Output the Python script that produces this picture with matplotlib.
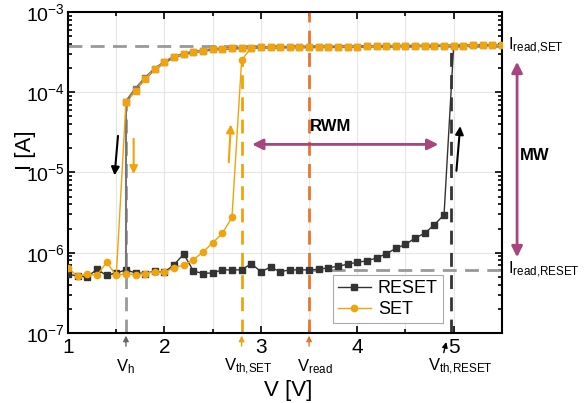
import matplotlib
matplotlib.use("Agg")
import matplotlib.pyplot as plt
from matplotlib.ticker import MultipleLocator, LogLocator, NullFormatter
import numpy as np

plt.rcParams["font.family"] = ["Liberation Sans", "DejaVu Sans"]
plt.rcParams["mathtext.default"] = "regular"

# RESET sweep, low state 1.0 .. 4.9 V
v_low_reset = np.round(np.arange(1.0, 4.95, 0.1), 1)
i_low_reset = [5.4e-7, 5.1e-7, 5.0e-7, 6.2e-7, 5.2e-7, 5.6e-7, 6.1e-7, 5.6e-7, 5.5e-7, 5.9e-7,
               5.7e-7, 7.1e-7, 9.6e-7, 5.9e-7, 5.5e-7, 5.6e-7, 6.1e-7, 6.1e-7, 6.1e-7, 7.3e-7,
               5.8e-7, 6.6e-7, 5.8e-7, 6.1e-7, 6.1e-7, 6.1e-7, 6.2e-7, 6.5e-7, 6.75e-7, 7.2e-7,
               7.6e-7, 7.9e-7, 8.6e-7, 9.7e-7, 1.13e-6, 1.27e-6, 1.52e-6, 1.75e-6, 2.23e-6, 2.97e-6]

# high state branch 1.6 .. 5.5 V
v_high = np.round(np.arange(1.6, 5.55, 0.1), 1)
i_high_reset = [7.6e-5, 1.1e-4, 1.5e-4, 1.96e-4, 2.37e-4, 2.76e-4, 3.0e-4, 3.17e-4, 3.3e-4, 3.43e-4,
                3.49e-4, 3.52e-4, 3.56e-4, 3.6e-4, 3.62e-4, 3.63e-4, 3.64e-4, 3.65e-4, 3.66e-4, 3.67e-4,
                3.68e-4, 3.69e-4, 3.7e-4, 3.71e-4, 3.72e-4, 3.73e-4, 3.74e-4, 3.75e-4, 3.76e-4, 3.77e-4,
                3.78e-4, 3.79e-4, 3.8e-4, 3.81e-4, 3.82e-4, 3.83e-4, 3.84e-4, 3.85e-4, 3.86e-4, 3.87e-4]
i_high_set = [7.5e-5, 1.05e-4, 1.48e-4, 1.95e-4, 2.36e-4, 2.75e-4, 3.0e-4, 3.17e-4, 3.3e-4, 3.43e-4,
              3.49e-4, 3.52e-4, 3.55e-4, 3.6e-4, 3.62e-4, 3.63e-4, 3.64e-4, 3.65e-4, 3.66e-4, 3.67e-4,
              3.68e-4, 3.69e-4, 3.7e-4, 3.71e-4, 3.72e-4, 3.73e-4, 3.74e-4, 3.75e-4, 3.76e-4, 3.77e-4,
              3.78e-4, 3.79e-4, 3.8e-4, 3.81e-4, 3.82e-4, 3.83e-4, 3.84e-4, 3.85e-4, 3.86e-4, 3.87e-4]

# SET sweep, low state 1.0 .. 2.8 V
v_low_set = np.round(np.arange(1.0, 2.85, 0.1), 1)
i_low_set = [6.4e-7, 5.1e-7, 5.4e-7, 5.2e-7, 7.6e-7, 5.2e-7, 5.5e-7, 5.3e-7, 5.5e-7, 5.8e-7,
             5.7e-7, 6.5e-7, 7.0e-7, 8.2e-7, 1.02e-6, 1.33e-6, 1.74e-6, 2.76e-6, 2.5e-4]

i_read_set = 3.8e-4
i_read_reset = 6.1e-7
v_h = 1.6
v_th_set = 2.8
v_read = 3.5
v_th_reset = 4.97

orange = "#F0A30A"
purple = "#A8457E"

fig = plt.figure(figsize=(5.87, 4.03), dpi=100)
ax = fig.add_axes([0.116, 0.174, 0.739, 0.796])

# reference lines
ax.plot([1, 5.5], [i_read_set, i_read_set], color="#999999", lw=2, ls=(0, (5, 3)), zorder=2)
ax.plot([v_read, 5.5], [i_read_reset, i_read_reset], color="#999999", lw=2, ls=(0, (5, 3)), zorder=2)
ax.plot([v_h, v_h], [1e-7, i_high_reset[0]], color="#999999", lw=2, ls=(0, (5, 3)), zorder=2)
ax.plot([v_th_set, v_th_set], [1e-7, i_low_set[-1]], color=orange, lw=2, ls=(0, (5, 3)), zorder=2)
ax.plot([v_read, v_read], [1e-7, 1e-3], color="#E8762C", lw=2, ls=(0, (5, 3)), zorder=2)
ax.plot([v_th_reset, v_th_reset], [1e-7, i_read_set], color="#333333", lw=2, ls=(0, (5, 3)), zorder=2)

# RESET curve
ax.plot(v_low_reset, i_low_reset, color="#333333", lw=1, marker="s", ms=4, zorder=3, label="RESET")
ax.plot([v_low_reset[-1], v_high[34]], [i_low_reset[-1], i_high_reset[34]], color="#333333", lw=1, zorder=3)
ax.plot(v_high, i_high_reset, color="#777777", lw=2, marker="s", ms=4, zorder=3)
ax.plot([v_h, v_h], [i_high_reset[0], i_low_reset[6]], color="#777777", lw=1.5, zorder=3)

# SET curve
ax.plot(v_low_set, i_low_set, color=orange, lw=1, marker="o", ms=4.5, zorder=4, label="SET")
ax.plot([v_low_set[-1], v_high[13]], [i_low_set[-1], i_high_set[13]], color=orange, lw=1, zorder=4)
ax.plot(v_high, i_high_set, color=orange, lw=1, ls=(0, (3, 2)), marker="s", ms=4, zorder=4)
ax.plot([v_h, v_low_set[5]], [i_high_set[0], i_low_set[5]], color=orange, lw=1, zorder=4)

# sweep direction arrows
aprops = dict(arrowstyle="-|>", lw=1.5, mutation_scale=12)
ax.annotate("", xy=(1.48, 8.5e-6), xytext=(1.52, 3.1e-5), arrowprops=dict(color="black", **aprops))
ax.annotate("", xy=(1.68, 8.8e-6), xytext=(1.68, 2.85e-5), arrowprops=dict(color=orange, **aprops))
ax.annotate("", xy=(2.69, 4.3e-5), xytext=(2.665, 1.24e-5), arrowprops=dict(color=orange, **aprops))
ax.annotate("", xy=(5.07, 4.1e-5), xytext=(5.026, 9.7e-6), arrowprops=dict(color="black", **aprops))

# RWM
ax.annotate("", xy=(4.87, 2.24e-5), xytext=(2.88, 2.24e-5),
            arrowprops=dict(arrowstyle="<|-|>", color=purple, lw=2, mutation_scale=16))
ax.text(3.72, 3.7e-5, "RWM", fontsize=12, fontweight="bold", ha="center", va="center")

# MW (outside the axes)
bt = ax.get_yaxis_transform()
ax.annotate("", xy=(1.035, 8.1e-7), xytext=(1.035, 2.6e-4), xycoords=bt, textcoords=bt,
            arrowprops=dict(arrowstyle="<|-|>", color=purple, lw=2, mutation_scale=16), annotation_clip=False)
ax.text(1.076, 1.65e-5, "MW", transform=bt, fontsize=12, fontweight="bold", ha="center", va="center")
ax.text(1.013, i_read_set, "I$_{read{,}SET}$", transform=bt, fontsize=12, ha="left", va="center")
ax.text(1.013, i_read_reset, "I$_{read{,}RESET}$", transform=bt, fontsize=12, ha="left", va="center")

# voltage markers below the axis
xt = ax.get_xaxis_transform()
for v, txt, col, xl in [(v_h, "V$_h$", "#666666", 1.6),
                        (v_th_set, "V$_{th{,}SET}$", orange, 2.87),
                        (v_read, "V$_{read}$", "#E8762C", 3.56)]:
    ax.annotate("", xy=(v, 0.0), xytext=(v, -0.05), xycoords=xt, textcoords=xt,
                arrowprops=dict(arrowstyle="-|>", color=col, lw=1, mutation_scale=8), annotation_clip=False)
    ax.text(xl, -0.105, txt, transform=xt, fontsize=12, ha="center", va="center")
ax.annotate("", xy=(4.93, -0.02), xytext=(4.89, -0.07), xycoords=xt, textcoords=xt,
            arrowprops=dict(arrowstyle="-|>", color="black", lw=1, mutation_scale=8), annotation_clip=False)
ax.text(5.07, -0.105, "V$_{th{,}RESET}$", transform=xt, fontsize=12, ha="center", va="center")

ax.set_yscale("log")
ax.set_xlim(1, 5.5)
ax.set_ylim(1e-7, 1e-3)
ax.xaxis.set_major_locator(MultipleLocator(1))
ax.xaxis.set_minor_locator(MultipleLocator(0.5))
ax.yaxis.set_major_locator(LogLocator(base=10, numticks=10))
ax.yaxis.set_minor_locator(LogLocator(base=10, subs=np.arange(2, 10), numticks=10))
ax.yaxis.set_minor_formatter(NullFormatter())
ax.grid(True, which="major", color="#e6e6e6", lw=0.8, zorder=0)
ax.grid(True, which="minor", axis="x", color="#e6e6e6", lw=0.8, zorder=0)
ax.set_axisbelow(True)
ax.tick_params(which="both", direction="in", top=True, right=True, width=1.2)
ax.tick_params(axis="x", labelsize=15)
ax.tick_params(axis="y", labelsize=14, pad=2)
ax.tick_params(which="major", length=5)
ax.tick_params(which="minor", length=3)
for s in ax.spines.values():
    s.set_linewidth(1.5)

ax.set_xlabel("V [V]", fontsize=16)
ax.xaxis.set_label_coords(0.507, -0.148)
ax.set_ylabel("I [A]", fontsize=16)
ax.yaxis.set_label_coords(-0.075, 0.57)

leg = ax.legend(loc="lower left", bbox_to_anchor=(0.61, 0.03), borderaxespad=0, fontsize=13,
                frameon=True, fancybox=False, edgecolor="#aaaaaa", framealpha=1, handlelength=1.8,
                handletextpad=0.4, borderpad=0.3, labelspacing=0.2)
leg.get_frame().set_linewidth(0.8)

fig.savefig("out.png", dpi=100)
